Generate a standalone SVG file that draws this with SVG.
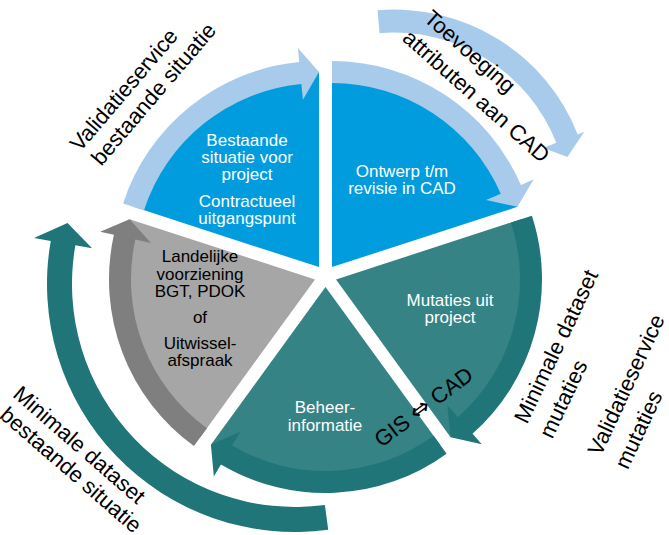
<svg xmlns="http://www.w3.org/2000/svg" width="669" height="535" viewBox="0 0 669 535">
<style>
.blue{fill:#009CDE}
.lblue{fill:#A9CBEB}
.teal{fill:#358385}
.dteal{fill:#1F7577}
.grey{fill:#A6A6A6}
.dgrey{fill:#7F7F7F}
text{font-family:"Liberation Sans",Arial,"DejaVu Sans",sans-serif}
.in{font-size:17px;text-anchor:middle}
.w{fill:#fff}
.k{fill:#000}
.out{font-size:22px;text-anchor:middle;fill:#000}
.sym{font-family:"DejaVu Sans",sans-serif;font-size:24px}
</style>
<rect width="669" height="535" fill="#fff"/>
<g id="sector-bestaande-situatie">
<path class="blue" d="M319,267.1 L133.54,206.84 A195,195 0 0 1 319,72.1 Z"/>
<path class="lblue" d="M144,210.24 L123.08,203.44 A206,206 0 0 1 299.25,62.05 L297.91,48.11 L319,72.1 L302.9,99.87 L301.36,83.95 A184,184 0 0 0 144,210.24 Z"/>
<text class="in w" x="247" y="145.5">Bestaande</text>
<text class="in w" x="247" y="162.5">situatie voor</text>
<text class="in w" x="247" y="180">project</text>
<text class="in w" x="247" y="206.5">Contractueel</text>
<text class="in w" x="247" y="224">uitgangspunt</text>
</g>
<g id="sector-ontwerp">
<path class="blue" d="M332,267.1 L332,72.1 A195,195 0 0 1 517.46,206.84 Z"/>
<path class="lblue" d="M332,83.1 L332,61.1 A206,206 0 0 1 520.91,184.96 L533.75,179.37 L517.46,206.84 L486.07,200.11 L500.74,193.73 A184,184 0 0 0 332,83.1 Z"/>
<text class="in w" x="402" y="177">Ontwerp t/m</text>
<text class="in w" x="402" y="194">revisie in CAD</text>
</g>
<g id="sector-mutaties">
<path class="teal" d="M336,279.4 L521.46,219.14 A195,195 0 0 1 450.62,437.16 Z"/>
<path class="dteal" d="M511,222.54 L531.92,215.74 A206,206 0 0 1 472.5,433.69 L481.78,444.17 L450.62,437.16 L447.32,405.23 L457.92,417.21 A184,184 0 0 0 511,222.54 Z"/>
<text class="in w" x="450" y="306">Mutaties uit</text>
<text class="in w" x="450" y="323">project</text>
</g>
<g id="sector-beheer">
<path class="teal" d="M325.5,287 L440.12,444.76 A195,195 0 0 1 210.88,444.76 Z"/>
<path class="dteal" d="M433.65,435.86 L446.58,453.66 A206,206 0 0 1 220.95,464.5 L213.84,476.56 L210.88,444.76 L240.23,431.75 L232.11,445.54 A184,184 0 0 0 433.65,435.86 Z"/>
<text class="in w" x="325" y="413">Beheer-</text>
<text class="in w" x="325" y="431">informatie</text>
</g>
<g id="sector-landelijk">
<path class="grey" d="M315,279.4 L200.38,437.16 A195,195 0 0 1 129.54,219.14 Z"/>
<path class="dgrey" d="M206.85,428.26 L193.92,446.06 A206,206 0 0 1 113.88,234.81 L100.21,231.78 L129.54,219.14 L150.98,243.04 L135.36,239.57 A184,184 0 0 0 206.85,428.26 Z"/>
<text class="in k" x="200" y="262">Landelijke</text>
<text class="in k" x="200" y="280">voorziening</text>
<text class="in k" x="200" y="297">BGT, PDOK</text>
<text class="in k" x="200" y="323">of</text>
<text class="in k" x="200" y="349">Uitwissel-</text>
<text class="in k" x="200" y="366">afspraak</text>
</g>
<g id="connectors">
<path class="dteal" d="M324.88,504.99 L328.23,529.76 A248,248 0 0 1 50.77,240.93 L34.03,237.98 L67.52,223.05 L92.13,248.23 L75.39,245.28 A223,223 0 0 0 324.88,504.99 Z"/>
<path class="lblue" d="M379.54,33.24 L377.57,10.32 A197,197 0 0 1 577.69,134.4 L584.21,131.83 L567.43,156.98 L543.27,147.96 L556.29,142.83 A174,174 0 0 0 379.54,33.24 Z"/>
</g>
<g id="labels">
<text class="out" transform="rotate(-49.5 129.5 94.6)" x="129.5" y="94.6">Validatieservice</text>
<text class="out" transform="rotate(-49.5 159.2 98.8)" x="159.2" y="98.8">bestaande situatie</text>
<text class="out" transform="rotate(41.5 465 57.2)" x="465" y="57.2">Toevoeging</text>
<text class="out" transform="rotate(41.5 471.4 101.7)" x="471.4" y="101.7">attributen aan CAD</text>
<text class="out" transform="rotate(-64.5 562.9 349.6)" x="562.9" y="349.6">Minimale dataset</text>
<text class="out" transform="rotate(-64.5 570.1 402.1)" x="570.1" y="402.1">mutaties</text>
<text class="out" transform="rotate(-65 632.9 387.9)" x="632.9" y="387.9">Validatieservice</text>
<text class="out" transform="rotate(-65 645.4 432.9)" x="645.4" y="432.9">mutaties</text>
<text class="out" transform="rotate(41 74.4 450.5)" x="74.4" y="450.5">Minimale dataset</text>
<text class="out" transform="rotate(41 66 475.5)" x="66" y="475.5">bestaande situatie</text>
<text class="out" transform="rotate(-37 428 413)" x="428" y="413">GIS <tspan class="sym">⇔</tspan> CAD</text>
</g>
</svg>
